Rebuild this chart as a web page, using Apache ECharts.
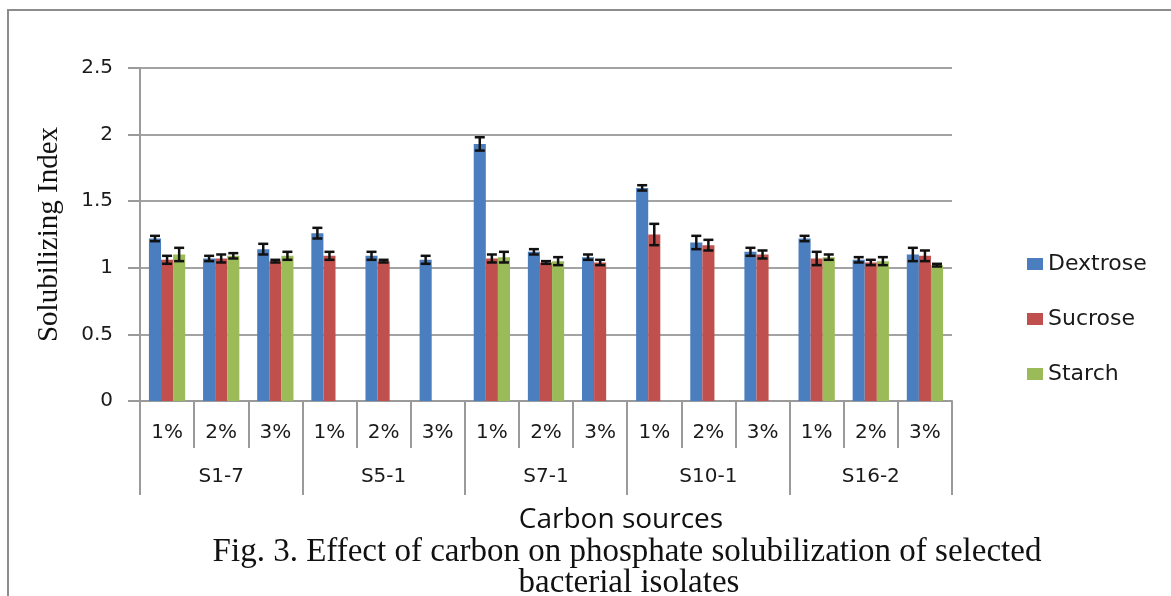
<!DOCTYPE html>
<html>
<head>
<meta charset="utf-8">
<script src="https://cdn.jsdelivr.net/npm/echarts@6/dist/echarts.min.js"></script>
<style>
  html, body { margin: 0; padding: 0; background: #fff; }
  #chart { width: 1171px; height: 596px; }
</style>
</head>
<body>
<div id="chart"></div>
<script>
// Concentration levels within each isolate, and the isolates themselves
const levels = ['1%', '2%', '3%'];
const isolates = ['S1-7', 'S5-1', 'S7-1', 'S10-1', 'S16-2'];
const yTicks = [0, 0.5, 1, 1.5, 2, 2.5];

// Solubilizing index per carbon source (isolate x level), null where not tested
const dextrose = [1.22, 1.07, 1.14, 1.26, 1.09, 1.06, 1.93, 1.12, 1.08, 1.60, 1.19, 1.12, 1.22, 1.06, 1.10];
const sucrose  = [1.06, 1.07, 1.05, 1.09, 1.05, null, 1.07, 1.04, 1.04, 1.25, 1.17, 1.10, 1.07, 1.04, 1.09];
const starch   = [1.10, 1.09, 1.09, null, null, null, 1.08, 1.05, null, null, null, null, 1.08, 1.05, 1.02];

// Standard errors shown as error bars
const dextroseErr = [0.02, 0.02, 0.04, 0.04, 0.03, 0.03, 0.05, 0.02, 0.02, 0.02, 0.05, 0.03, 0.02, 0.02, 0.05];
const sucroseErr  = [0.03, 0.03, 0.01, 0.03, 0.01, null, 0.03, 0.01, 0.02, 0.08, 0.04, 0.03, 0.05, 0.02, 0.04];
const starchErr   = [0.05, 0.02, 0.03, null, null, null, 0.04, 0.03, null, null, null, null, 0.02, 0.03, 0.01];

const seriesNames = ['Dextrose', 'Sucrose', 'Starch'];
const seriesColors = ['#4a7ebf', '#c0504d', '#9bbb59'];
const seriesValues = [dextrose, sucrose, starch];
const seriesErrors = [dextroseErr, sucroseErr, starchErr];

const categories = [];
isolates.forEach(() => levels.forEach(l => categories.push(l)));

const CATEGORY_GAP = 0.33;

function errorSeries(idx) {
  const vals = seriesValues[idx];
  const errs = seriesErrors[idx];
  const data = [];
  vals.forEach((v, i) => {
    if (v != null && errs[i] != null) data.push([i, v, errs[i]]);
  });
  return {
    type: 'custom',
    name: seriesNames[idx] + ' error',
    xAxisIndex: 0,
    yAxisIndex: 0,
    z: 10,
    silent: true,
    data: data,
    renderItem: function (params, api) {
      const x = api.value(0);
      const v = api.value(1);
      const e = api.value(2);
      const band = api.size([1, 0])[0];
      const barW = band * (1 - CATEGORY_GAP) / 3;
      const center = api.coord([x, v]);
      const cx = center[0] + (idx - 1) * barW;
      const top = api.coord([x, v + e])[1];
      const bot = api.coord([x, v - e])[1];
      const cap = 5;
      const style = { stroke: '#111', lineWidth: 2.5 };
      return {
        type: 'group',
        children: [
          { type: 'line', shape: { x1: cx, y1: top, x2: cx, y2: bot }, style: style },
          { type: 'line', shape: { x1: cx - cap, y1: top, x2: cx + cap, y2: top }, style: style },
          { type: 'line', shape: { x1: cx - cap, y1: bot, x2: cx + cap, y2: bot }, style: style }
        ]
      };
    }
  };
}

const barSeries = seriesNames.map((name, idx) => ({
  type: 'bar',
  name: name,
  data: seriesValues[idx],
  xAxisIndex: 0,
  yAxisIndex: 0,
  barGap: '0%',
  barCategoryGap: (CATEGORY_GAP * 100) + '%',
  itemStyle: { color: seriesColors[idx] }
}));

const chart = echarts.init(document.getElementById('chart'), null, { renderer: 'canvas' });

chart.setOption({
  backgroundColor: '#ffffff',
  animation: false,
  grid: { left: 140, right: 219, top: 68, bottom: 195, containLabel: false },
  legend: {
    data: seriesNames,
    orient: 'vertical',
    left: 1022,
    top: 248,
    itemWidth: 16,
    itemHeight: 12,
    itemGap: 33,
    icon: 'rect',
    textStyle: { fontFamily: 'DejaVu Sans', fontSize: 22, color: '#1a1a1a' }
  },
  title: [
    {
      text: 'Carbon sources',
      left: 616, top: 501, textAlign: 'center',
      textStyle: { fontFamily: 'Open Sans', fontSize: 28, fontWeight: 'normal', color: '#111' }
    },
    {
      text: 'Fig. 3. Effect of carbon on phosphate solubilization of selected',
      left: 622, top: 531, textAlign: 'center',
      textStyle: { fontFamily: 'Liberation Serif', fontSize: 33, fontWeight: 'normal', color: '#111' }
    },
    {
      text: 'bacterial isolates',
      left: 624, top: 562, textAlign: 'center',
      textStyle: { fontFamily: 'Liberation Serif', fontSize: 33, fontWeight: 'normal', color: '#111' }
    }
  ],
  xAxis: [
    {
      type: 'category',
      data: categories,
      position: 'bottom',
      axisLine: { show: true, lineStyle: { color: '#9a9a9a', width: 2 } },
      axisTick: { show: true, interval: 0, length: 47, lineStyle: { color: '#9a9a9a', width: 2 } },
      axisLabel: { interval: 0, margin: 22, fontFamily: 'DejaVu Sans', fontSize: 20, color: '#1a1a1a' },
      splitLine: { show: false }
    },
    {
      type: 'category',
      data: isolates,
      position: 'bottom',
      offset: 0,
      axisLine: { show: false },
      axisTick: { show: true, interval: 0, length: 94, lineStyle: { color: '#9a9a9a', width: 2 } },
      axisLabel: { interval: 0, margin: 66, fontFamily: 'DejaVu Sans', fontSize: 20, color: '#1a1a1a' },
      splitLine: { show: false }
    }
  ],
  yAxis: {
    type: 'value',
    min: yTicks[0],
    max: yTicks[yTicks.length - 1],
    interval: 0.5,
    name: 'Solubilizing Index',
    nameLocation: 'middle',
    nameRotate: 90,
    nameGap: 76,
    nameTextStyle: { fontFamily: 'Liberation Serif', fontSize: 29, color: '#111' },
    axisLine: { show: true, lineStyle: { color: '#9a9a9a', width: 2 } },
    axisTick: { show: true, length: 12, lineStyle: { color: '#9a9a9a', width: 2 } },
    axisLabel: { margin: 27, fontFamily: 'DejaVu Sans', fontSize: 20, color: '#1a1a1a',
                 formatter: v => String(v) },
    splitLine: { show: true, lineStyle: { color: '#a3a3a3', width: 2 } }
  },
  graphic: [
    {
      type: 'rect',
      shape: { x: 8, y: 10, width: 1200, height: 620 },
      style: { fill: 'none', stroke: '#8c8c8c', lineWidth: 2 },
      silent: true
    }
  ],
  series: barSeries.concat([errorSeries(0), errorSeries(1), errorSeries(2)])
});
</script>
</body>
</html>
